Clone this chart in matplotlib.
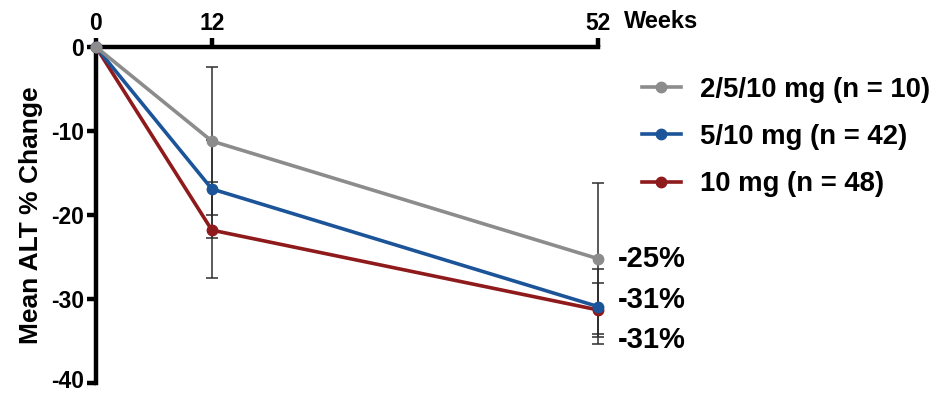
import matplotlib
matplotlib.use("Agg")
import matplotlib.pyplot as plt
from matplotlib.transforms import ScaledTranslation

plt.rcParams['font.family'] = ['Liberation Sans', 'DejaVu Sans']
plt.rcParams['font.weight'] = 'bold'

# Visit schedule (weeks) and mean ALT % change per dosing group
weeks = [0, 12, 52]
tick_labels = ["0", "12", "52"]
groups = ["2/5/10 mg (n = 10)", "5/10 mg (n = 42)", "10 mg (n = 48)"]
mean_2_5_10 = [0, -11.2, -25.2]
mean_5_10 = [0, -16.9, -30.9]
mean_10 = [0, -21.8, -31.3]
err_2_5_10 = [0, 8.8, 9.0]
err_5_10 = [0, 5.8, 4.5]
err_10 = [0, 5.7, 3.2]
y_ticks = [0, -10, -20, -30, -40]

colors = ["#8c8c8c", "#1c5499", "#8e1a1c"]
means = [mean_2_5_10, mean_5_10, mean_10]
errs = [err_2_5_10, err_5_10, err_10]

fig = plt.figure(figsize=(9.34, 3.94), dpi=100)
ax = fig.add_axes([96 / 934, 1 - 383 / 394, (598 - 96) / 934, (383 - 47) / 394])

for m, e in zip(means, errs):
    ax.errorbar(weeks[1:], m[1:], yerr=e[1:], fmt='none', ecolor='#2e2e2e',
                elinewidth=1.1, capsize=4.3, capthick=1.1, zorder=2, clip_on=False)

# draw groups back to front so the gray series sits on top
order = [2, 1, 0]
handles = {}
for i in order:
    (ln,) = ax.plot(weeks, means[i], color=colors[i], lw=2.6, marker='o', ms=7.5,
                    zorder=3 + (2 - i), clip_on=False, label=groups[i])
    handles[i] = ln

ax.set_xlim(0, 52)
ax.set_ylim(-40, 0)
ax.xaxis.tick_top()
ax.set_xticks(weeks)
ax.set_xticklabels(tick_labels)
ax.set_yticks(y_ticks)
ax.set_yticklabels([str(v) for v in y_ticks])
for s in ['bottom', 'right']:
    ax.spines[s].set_visible(False)
for s in ['top', 'left']:
    ax.spines[s].set_linewidth(3.2)
ax.tick_params(axis='x', direction='out', length=6.5, width=3.2, pad=2.5, labelsize=16.5)
ax.tick_params(axis='y', direction='out', length=6.5, width=3.2, pad=2, labelsize=16.5)
for lab in ax.get_xticklabels() + ax.get_yticklabels():
    lab.set_fontweight('bold')

# keep the lowest y tick label inside the canvas
fig.canvas.draw()
bottom_label = ax.get_yticklabels()[-1]
bottom_label.set_transform(bottom_label.get_transform()
                           + ScaledTranslation(0, 4 / 100, fig.dpi_scale_trans))

ax.set_ylabel("Mean ALT % Change", fontsize=19, fontweight='bold', labelpad=6)

ax.annotate("Weeks", xy=(52, 0), xycoords='data', xytext=(19, 18),
            textcoords='offset points', ha='left', va='center',
            fontsize=17, fontweight='bold')

# end-of-study value labels
label_offsets = [(14, 0), (14, 4.5), (14, -22)]
for m, off in zip(means, label_offsets):
    ax.annotate(f"{round(m[-1]):d}%", xy=(52, m[-1]), xycoords='data',
                xytext=off, textcoords='offset points', ha='left', va='center',
                fontsize=21, fontweight='bold', annotation_clip=False)

leg = fig.legend([handles[i] for i in range(3)], groups, loc='center left',
                 bbox_to_anchor=(642 / 934, 1 - 137 / 394), frameon=False,
                 handlelength=1.4, handletextpad=0.7,
                 labelspacing=0.78, borderpad=0, borderaxespad=0,
                 prop={'weight': 'bold', 'size': 19.8})

fig.savefig("out.png", dpi=100)
